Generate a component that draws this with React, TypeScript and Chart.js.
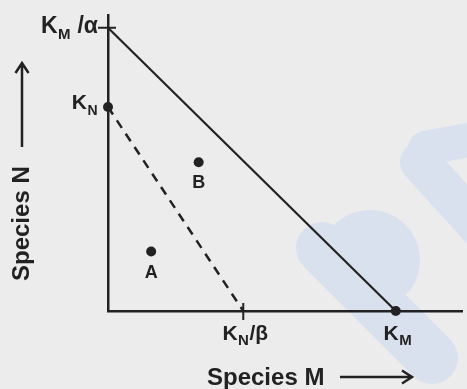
import React, { useEffect, useRef } from 'react';
import { Chart, registerables } from 'chart.js';

Chart.register(...registerables);

// ---- data ----
const X_MAX = 123;
const Y_MAX = 104.5;
const KM = 100;
const KM_ALPHA = 100;
const KN = 72;
const KN_BETA = 47;
const POINT_NAMES = ['A', 'B'];
const POINT_X = [15, 31.5];
const POINT_Y = [21, 52.5];
const Y_TICK_VALUES = [KM_ALPHA, KN];
const Y_TICK_LABELS = [['K', 'M', ' /α'], ['K', 'N', '']];
const X_TICK_VALUES = [KN_BETA, KM];
const X_TICK_LABELS = [['K', 'N', '/β'], ['K', 'M', '']];
const X_TITLE = 'Species M';
const Y_TITLE = 'Species N';

// ---- styles ----
const FONT = '"Liberation Sans", Arial, sans-serif';
const INK = '#222222';
const BG = '#ececec';
const WM = '#d9e1ef';

function drawSubLabel(ctx: CanvasRenderingContext2D, parts: string[], x: number, y: number, align: string, size: number, subSize: number) {
  const [main, sub, suffix] = parts;
  const mf = `bold ${size}px ${FONT}`;
  const sf = `bold ${subSize}px ${FONT}`;
  ctx.font = mf;
  const w1 = ctx.measureText(main).width;
  const w3 = suffix ? ctx.measureText(suffix).width : 0;
  ctx.font = sf;
  const w2 = ctx.measureText(sub).width;
  const total = w1 + w2 + w3 + 1;
  const sx = align === 'right' ? x - total : x - total / 2;
  ctx.textAlign = 'left';
  ctx.textBaseline = 'alphabetic';
  ctx.fillStyle = INK;
  ctx.font = mf;
  ctx.fillText(main, sx, y);
  ctx.font = sf;
  ctx.fillText(sub, sx + w1 + 0.5, y + size * 0.26);
  if (suffix) {
    ctx.font = mf;
    ctx.fillText(suffix, sx + w1 + w2 + 1, y);
  }
}

const backgroundPlugin = {
  id: 'bgwm',
  beforeDraw(chart: any) {
    const ctx = chart.ctx as CanvasRenderingContext2D;
    ctx.save();
    ctx.fillStyle = BG;
    ctx.fillRect(0, 0, chart.width, chart.height);
    // faint watermark
    ctx.fillStyle = WM;
    ctx.strokeStyle = WM;
    ctx.lineCap = 'round';
    ctx.lineWidth = 52;
    ctx.beginPath();
    ctx.moveTo(322, 248);
    ctx.lineTo(432, 358);
    ctx.stroke();
    ctx.beginPath();
    ctx.arc(370, 260, 50, 0, Math.PI * 2);
    ctx.fill();
    ctx.lineWidth = 40;
    ctx.beginPath();
    ctx.moveTo(420, 162);
    ctx.lineTo(495, 245);
    ctx.stroke();
    ctx.lineWidth = 34;
    ctx.beginPath();
    ctx.moveTo(425, 148);
    ctx.lineTo(480, 138);
    ctx.stroke();
    ctx.restore();
  },
};

const annotPlugin = {
  id: 'annot',
  afterDatasetsDraw(chart: any) {
    const ctx = chart.ctx as CanvasRenderingContext2D;
    const xs = chart.scales.x;
    const ys = chart.scales.y;
    const x0 = xs.getPixelForValue(0);
    const y0 = ys.getPixelForValue(0);
    ctx.save();
    ctx.strokeStyle = INK;
    ctx.fillStyle = INK;
    ctx.lineWidth = 2;
    // tick marks
    const yt = ys.getPixelForValue(KM_ALPHA);
    ctx.beginPath();
    ctx.moveTo(x0 - 10, yt);
    ctx.lineTo(x0 + 8, yt);
    ctx.stroke();
    const xt = xs.getPixelForValue(KN_BETA);
    ctx.beginPath();
    ctx.moveTo(xt, y0 - 8);
    ctx.lineTo(xt, y0 + 9);
    ctx.stroke();

    // y-axis labels
    const yDy = [5, 2];
    const ySizes = [23, 21];
    const ySub = [15, 14];
    Y_TICK_VALUES.forEach((v, i) => {
      const py = ys.getPixelForValue(v);
      drawSubLabel(ctx, Y_TICK_LABELS[i], x0 - 10, py + yDy[i], 'right', ySizes[i], ySub[i]);
    });
    // x-axis labels
    X_TICK_VALUES.forEach((v, i) => {
      const px = xs.getPixelForValue(v);
      drawSubLabel(ctx, X_TICK_LABELS[i], px + 2, y0 + 29, 'center', 21, 15);
    });
    // point labels
    ctx.font = `bold 18px ${FONT}`;
    ctx.textAlign = 'center';
    ctx.textBaseline = 'alphabetic';
    POINT_NAMES.forEach((n, i) => {
      ctx.fillText(n, xs.getPixelForValue(POINT_X[i]), ys.getPixelForValue(POINT_Y[i]) + 26);
    });

    // x title + arrow
    ctx.font = `bold 24px ${FONT}`;
    ctx.textAlign = 'left';
    ctx.fillText(X_TITLE, 207, 385);
    ctx.lineWidth = 2.5;
    ctx.beginPath();
    ctx.moveTo(340, 377);
    ctx.lineTo(411, 377);
    ctx.moveTo(402, 370.5);
    ctx.lineTo(412, 377);
    ctx.lineTo(402, 383.5);
    ctx.stroke();

    // y title + arrow
    ctx.save();
    ctx.translate(29, 281);
    ctx.rotate(-Math.PI / 2);
    ctx.fillText(Y_TITLE, 0, 0);
    ctx.restore();
    ctx.beginPath();
    ctx.moveTo(22, 147);
    ctx.lineTo(22, 64);
    ctx.moveTo(15.5, 73);
    ctx.lineTo(22, 63);
    ctx.lineTo(28.5, 73);
    ctx.stroke();
    ctx.restore();
  },
};

export default function App() {
  const ref = useRef<HTMLCanvasElement | null>(null);
  useEffect(() => {
    document.body.style.margin = '0';
    const canvas = ref.current!;
    const chart = new Chart(canvas, {
      type: 'scatter',
      data: {
        datasets: [
          {
            data: [{ x: 0, y: KM_ALPHA }, { x: KM, y: 0 }],
            showLine: true,
            borderColor: INK,
            borderWidth: 2.2,
            pointRadius: 0,
            clip: false,
          } as any,
          {
            data: [{ x: 0, y: KN }, { x: KN_BETA, y: 0 }],
            showLine: true,
            borderColor: INK,
            borderWidth: 2.5,
            borderDash: [9, 7],
            pointRadius: 0,
            clip: false,
          } as any,
          {
            data: [
              ...POINT_X.map((x, i) => ({ x, y: POINT_Y[i] })),
              { x: 0, y: KN },
              { x: KM, y: 0 },
            ],
            pointRadius: 5,
            pointBackgroundColor: INK,
            pointBorderColor: INK,
            pointBorderWidth: 0,
            clip: false,
          } as any,
        ],
      },
      options: {
        animation: false,
        responsive: false,
        devicePixelRatio: 1,
        layout: { padding: { left: 108, top: 15, right: 0, bottom: 78 } },
        plugins: { legend: { display: false }, tooltip: { enabled: false } },
        events: [],
        scales: {
          x: {
            type: 'linear',
            min: 0,
            max: X_MAX,
            grid: { display: false, drawTicks: false },
            ticks: { display: false },
            border: { display: true, color: INK, width: 2.5 },
          },
          y: {
            type: 'linear',
            min: 0,
            max: Y_MAX,
            grid: { display: false, drawTicks: false },
            ticks: { display: false },
            border: { display: true, color: INK, width: 2.5 },
          },
        },
      },
      plugins: [backgroundPlugin, annotPlugin],
    });
    return () => chart.destroy();
  }, []);
  return <canvas ref={ref} width={467} height={389} style={{ display: 'block' }} />;
}
